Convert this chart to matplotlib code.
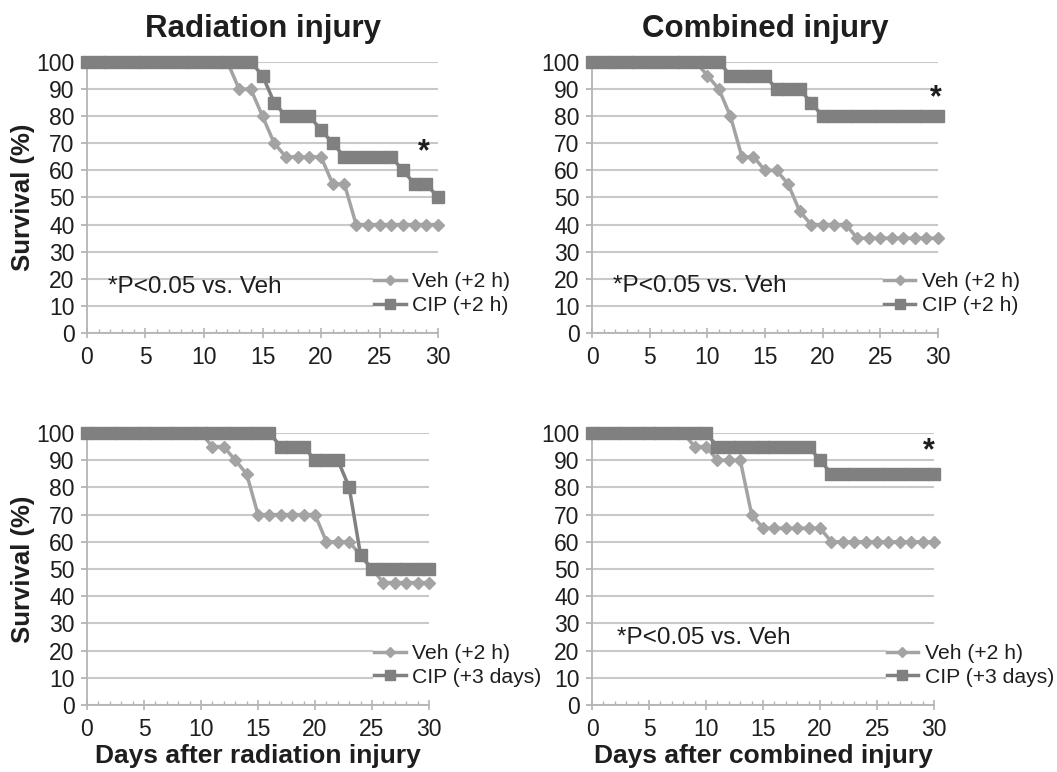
import numpy as np
import matplotlib
matplotlib.use("Agg")
import matplotlib.pyplot as plt
from matplotlib.ticker import MultipleLocator

plt.rcParams['font.family'] = ['Liberation Sans', 'DejaVu Sans']

days = np.arange(31)

# survival (%) per day
rad_veh_2h = [100, 100, 100, 100, 100, 100, 100, 100, 100, 100, 100, 100, 100,
              90, 90, 80, 70, 65, 65, 65, 65, 55, 55, 40, 40, 40, 40, 40, 40, 40, 40]
rad_cip_2h = [100, 100, 100, 100, 100, 100, 100, 100, 100, 100, 100, 100, 100, 100, 100,
              95, 85, 80, 80, 80, 75, 70, 65, 65, 65, 65, 65, 60, 55, 55, 50]

comb_veh_2h = [100, 100, 100, 100, 100, 100, 100, 100, 100, 100,
               95, 90, 80, 65, 65, 60, 60, 55, 45, 40, 40, 40, 40, 35, 35, 35, 35, 35, 35, 35, 35]
comb_cip_2h = [100, 100, 100, 100, 100, 100, 100, 100, 100, 100, 100, 100,
               95, 95, 95, 95, 90, 90, 90, 85, 80, 80, 80, 80, 80, 80, 80, 80, 80, 80, 80]

rad_veh_3d = [100, 100, 100, 100, 100, 100, 100, 100, 100, 100, 100,
              95, 95, 90, 85, 70, 70, 70, 70, 70, 70, 60, 60, 60, 55, 50, 45, 45, 45, 45, 45]
rad_cip_3d = [100, 100, 100, 100, 100, 100, 100, 100, 100, 100, 100, 100, 100, 100, 100, 100, 100,
              95, 95, 95, 90, 90, 90, 80, 55, 50, 50, 50, 50, 50, 50]

comb_veh_3d = [100, 100, 100, 100, 100, 100, 100, 100, 100,
               95, 95, 90, 90, 90, 70, 65, 65, 65, 65, 65, 65, 60, 60, 60, 60, 60, 60, 60, 60, 60, 60]
comb_cip_3d = [100, 100, 100, 100, 100, 100, 100, 100, 100, 100, 100,
               95, 95, 95, 95, 95, 95, 95, 95, 95, 90, 85, 85, 85, 85, 85, 85, 85, 85, 85, 85]

veh_col = '#a3a3a3'
cip_col = '#808080'
grid_col = '#c9c9c9'
axis_col = '#b4b4b4'
txt_col = '#1e1e1e'

fig = plt.figure(figsize=(10.57, 7.72), dpi=100)

# axes rectangles (left, bottom, width, height) in figure fractions
rects = [
    (0.0823, 0.5687, 0.3321, 0.3510),
    (0.5601, 0.5687, 0.3273, 0.3510),
    (0.0823, 0.0868, 0.3236, 0.3523),
    (0.5601, 0.0868, 0.3236, 0.3523),
]
panels = [
    (rad_veh_2h, rad_cip_2h, 'CIP (+2 h)', 0.815),
    (comb_veh_2h, comb_cip_2h, 'CIP (+2 h)', 0.84),
    (rad_veh_3d, rad_cip_3d, 'CIP (+3 days)', 0.836),
    (comb_veh_3d, comb_cip_3d, 'CIP (+3 days)', 0.858),
]

axes = []
for rect, (veh, cip, cip_lab, leg_x) in zip(rects, panels):
    ax = fig.add_axes(rect)
    ax.plot(days, veh, color=veh_col, lw=2.5, marker='D', ms=6,
            mec=veh_col, mfc=veh_col, label='Veh (+2 h)', clip_on=False, zorder=3)
    ax.plot(days, cip, color=cip_col, lw=2.5, marker='s', ms=8,
            mec=cip_col, mfc=cip_col, label=cip_lab, clip_on=False, zorder=4)
    ax.set_xlim(0, 30)
    ax.set_ylim(0, 100)
    ax.xaxis.set_major_locator(MultipleLocator(5))
    ax.xaxis.set_minor_locator(MultipleLocator(1))
    ax.yaxis.set_major_locator(MultipleLocator(10))
    ax.grid(axis='y', color=grid_col, lw=1.5)
    ax.set_axisbelow(True)
    for s in ['top', 'right']:
        ax.spines[s].set_visible(False)
    for s in ['left', 'bottom']:
        ax.spines[s].set_color(axis_col)
        ax.spines[s].set_linewidth(1.3)
    ax.tick_params(axis='y', which='major', length=4, width=1.3, color=axis_col,
                   labelsize=16.5, pad=5, labelcolor=txt_col)
    ax.tick_params(axis='x', which='major', direction='inout', length=7, width=1.2,
                   color=axis_col, labelsize=16.5, pad=6, labelcolor=txt_col)
    ax.tick_params(axis='x', which='minor', direction='in', length=3, width=1.0,
                   color=axis_col)
    leg = ax.legend(loc='center left', bbox_to_anchor=(leg_x, 0.145), fontsize=15.2,
                    frameon=True, framealpha=1, facecolor='white', edgecolor='none',
                    borderpad=0.05, borderaxespad=0, handlelength=1.5,
                    handletextpad=0.3, labelspacing=0.22, markerscale=0.85)
    leg.set_zorder(5)
    for t in leg.get_texts():
        t.set_color(txt_col)
    axes.append(ax)

axes[0].set_title('Radiation injury', fontsize=22.5, fontweight='bold', pad=18, color=txt_col)
axes[1].set_title('Combined injury', fontsize=22.5, fontweight='bold', pad=18, color=txt_col)
axes[2].set_xlabel('Days after radiation injury', fontsize=19, fontweight='bold',
                   labelpad=2, color=txt_col)
axes[3].set_xlabel('Days after combined injury', fontsize=19, fontweight='bold',
                   labelpad=2, color=txt_col)
axes[0].set_ylabel('Survival (%)', fontsize=18.5, fontweight='bold', labelpad=1, color=txt_col)
axes[2].set_ylabel('Survival (%)', fontsize=18.5, fontweight='bold', labelpad=1, color=txt_col)

note = '*P<0.05 vs. Veh'
axes[0].text(1.8, 17, note, fontsize=17.5, va='center', color=txt_col)
axes[1].text(1.8, 17.5, note, fontsize=17.5, va='center', color=txt_col)
axes[3].text(2.2, 24.5, note, fontsize=17.5, va='center', color=txt_col)

axes[0].text(28.8, 66.7, '*', fontsize=22, fontweight='bold', ha='center', va='center',
             color=txt_col)
axes[1].text(29.8, 86.5, '*', fontsize=22, fontweight='bold', ha='center', va='center',
             color=txt_col)
axes[3].text(29.5, 93.3, '*', fontsize=22, fontweight='bold', ha='center', va='center',
             color=txt_col)

fig.savefig('out.png', dpi=100)
